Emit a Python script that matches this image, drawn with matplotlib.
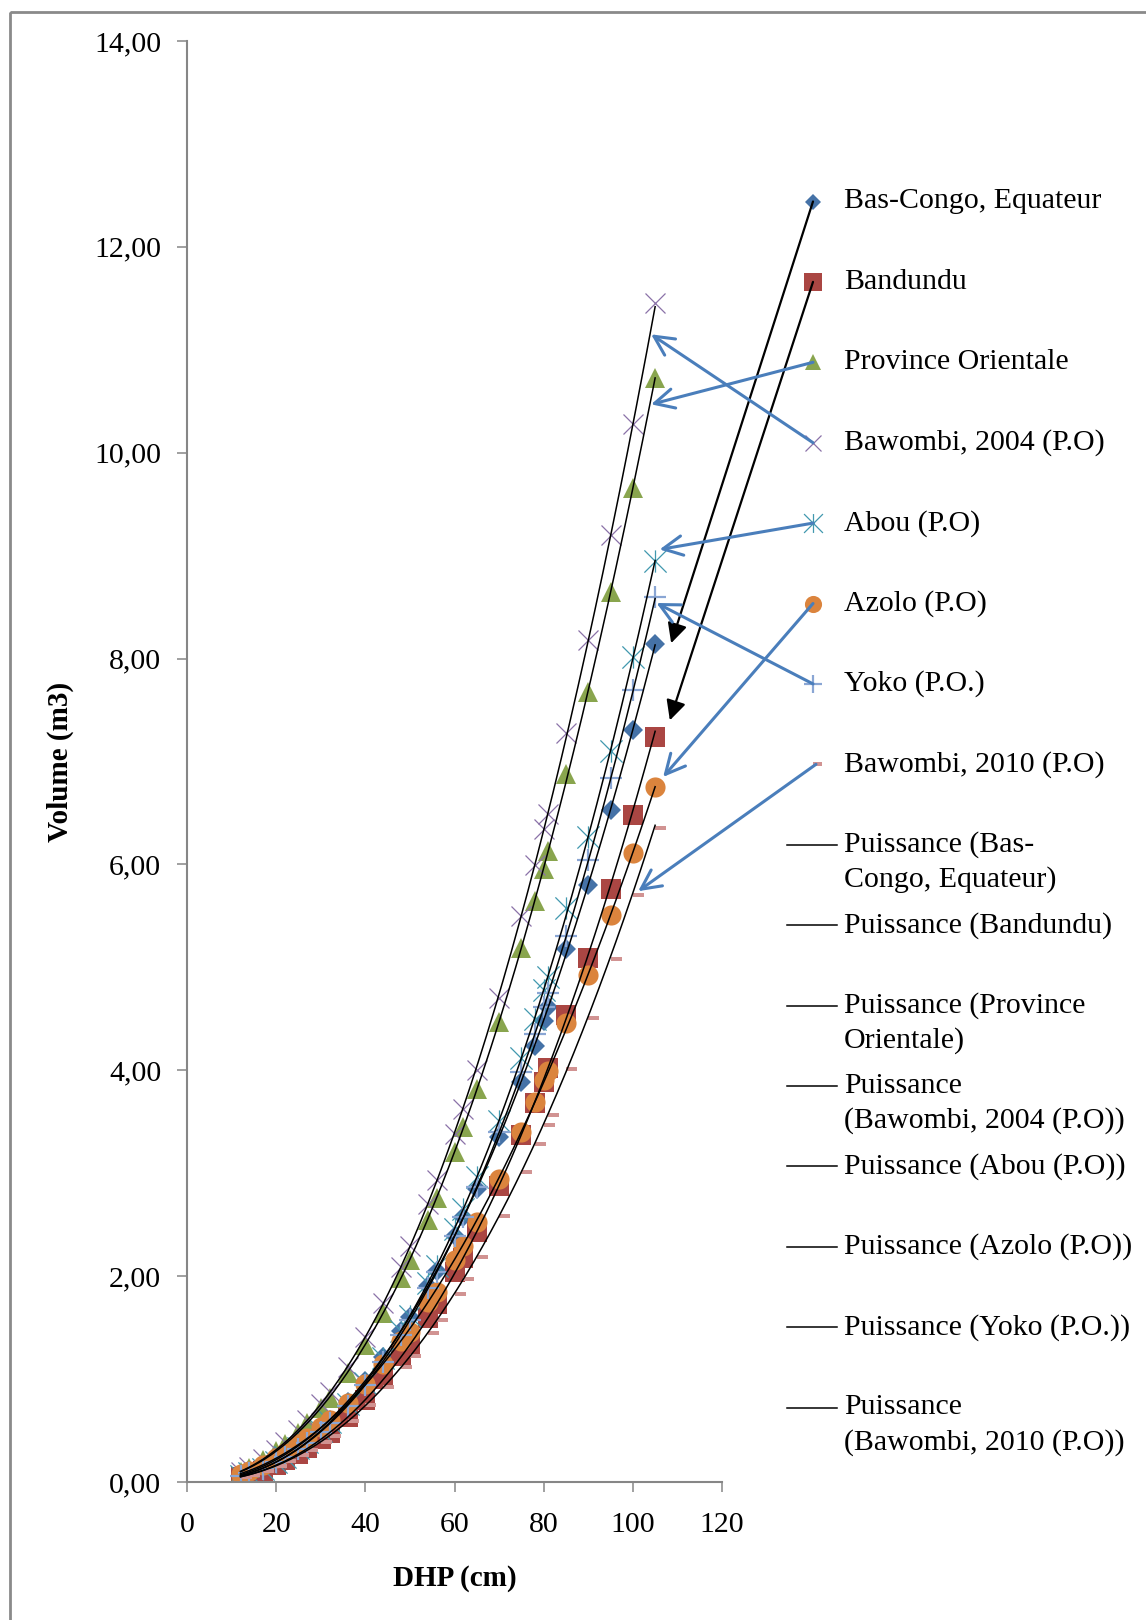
import matplotlib.pyplot as plt
import numpy as np
from matplotlib.patches import Rectangle
from matplotlib.path import Path
from matplotlib.ticker import FuncFormatter

plt.rcParams['font.family'] = ['Liberation Serif', 'DejaVu Serif']

# DHP classes (cm) shared by all tariffs
dhp = [12, 14, 17, 20, 22, 25, 27, 30, 32, 36, 40, 44, 48, 50, 54, 56, 60, 62,
       65, 70, 75, 78, 80, 81, 85, 90, 95, 100, 105]

# stem volume (m3) per tariff
bas_congo = [0.07, 0.10, 0.15, 0.22, 0.27, 0.35, 0.42, 0.52, 0.60, 0.78, 0.98,
             1.21, 1.47, 1.60, 1.90, 2.05, 2.39, 2.57, 2.85, 3.35, 3.89, 4.24,
             4.48, 4.61, 5.18, 5.80, 6.53, 7.31, 8.14]
bandundu = [0.05, 0.07, 0.11, 0.17, 0.21, 0.27, 0.33, 0.42, 0.48, 0.63, 0.80,
            1.00, 1.22, 1.33, 1.59, 1.73, 2.04, 2.18, 2.43, 2.88, 3.37, 3.68,
            3.89, 4.02, 4.54, 5.09, 5.76, 6.48, 7.24]
province_orientale = [0.10, 0.14, 0.21, 0.30, 0.37, 0.48, 0.57, 0.72, 0.82,
                      1.06, 1.33, 1.64, 1.98, 2.16, 2.55, 2.76, 3.21, 3.45,
                      3.82, 4.47, 5.19, 5.64, 5.96, 6.13, 6.88, 7.68, 8.65,
                      9.66, 10.73]
bawombi_2004 = [0.10, 0.15, 0.22, 0.31, 0.39, 0.51, 0.60, 0.76, 0.87, 1.12,
                1.41, 1.74, 2.09, 2.29, 2.70, 2.93, 3.38, 3.62, 4.00, 4.70,
                5.50, 5.99, 6.34, 6.49, 7.28, 8.18, 9.20, 10.28, 11.45]
abou = [0.06, 0.09, 0.13, 0.19, 0.24, 0.33, 0.39, 0.50, 0.58, 0.76, 0.96, 1.20,
        1.47, 1.61, 1.93, 2.10, 2.46, 2.65, 2.96, 3.51, 4.12, 4.50, 4.78, 4.91,
        5.58, 6.27, 7.10, 8.02, 8.95]
azolo = [0.08, 0.11, 0.17, 0.23, 0.28, 0.37, 0.43, 0.53, 0.60, 0.77, 0.95,
         1.15, 1.37, 1.46, 1.75, 1.85, 2.16, 2.29, 2.53, 2.94, 3.40, 3.69, 3.91,
         3.99, 4.46, 4.93, 5.51, 6.11, 6.75]
yoko = [0.06, 0.09, 0.13, 0.19, 0.24, 0.32, 0.38, 0.49, 0.57, 0.74, 0.94, 1.17,
        1.43, 1.57, 1.88, 2.04, 2.39, 2.57, 2.87, 3.40, 3.98, 4.35, 4.61, 4.75,
        5.30, 6.04, 6.84, 7.69, 8.60]
bawombi_2010 = [0.05, 0.07, 0.11, 0.16, 0.20, 0.26, 0.31, 0.39, 0.45, 0.59,
                0.75, 0.92, 1.12, 1.22, 1.45, 1.57, 1.83, 1.97, 2.19, 2.58,
                3.01, 3.28, 3.47, 3.57, 4.01, 4.51, 5.08, 5.70, 6.35]

names = ['Bas-Congo, Equateur', 'Bandundu', 'Province Orientale',
         'Bawombi, 2004 (P.O)', 'Abou (P.O)', 'Azolo (P.O)', 'Yoko (P.O.)',
         'Bawombi, 2010 (P.O)']
trend_names = ['Puissance (Bas-\nCongo, Equateur)', 'Puissance (Bandundu)',
               'Puissance (Province\nOrientale)',
               'Puissance\n(Bawombi, 2004 (P.O))', 'Puissance (Abou (P.O))',
               'Puissance (Azolo (P.O))', 'Puissance (Yoko (P.O.))',
               'Puissance\n(Bawombi, 2010 (P.O))']
volumes = [bas_congo, bandundu, province_orientale, bawombi_2004, abou, azolo,
           yoko, bawombi_2010]

asterisk = Path([(0, -1), (0, 1), (-1, -1), (1, 1), (-1, 1), (1, -1)],
                [Path.MOVETO, Path.LINETO] * 3)
dash = [(0, -0.2), (1, -0.2), (1, 0.2), (0, 0.2), (0, -0.2)]

# marker, size, color, filled, edge width
styles = [
    ('D', 10.0, '#4572A7', True, 0),
    ('s', 14.5, '#AA4643', True, 0),
    ('^', 14.0, '#89A54E', True, 0),
    ('x', 14.0, '#8A72A8', False, 0.9),
    (asterisk, 16.0, '#4198AF', False, 0.9),
    ('o', 14.5, '#DB843D', True, 0),
    ('+', 16.0, '#8AA6D4', False, 1.6),
    (dash, 16.0, '#D19392', True, 0),
]

W, H = 1146, 1620
fig = plt.figure(figsize=(W / 100, H / 100), dpi=100)
ax = fig.add_axes([187 / W, 1 - 1482 / H, 535 / W, 1441 / H])

for vals, (mk, ms, col, filled, mew) in zip(volumes, styles):
    if filled:
        ax.plot(dhp, vals, ls='none', marker=mk, ms=ms, color=col, mew=0)
    else:
        ax.plot(dhp, vals, ls='none', marker=mk, ms=ms, mfc='none',
                mec=col, mew=mew)

# power trendlines, fitted in log-log space
x_fit = np.linspace(min(dhp), max(dhp), 200)
for vals in volumes:
    b, ln_a = np.polyfit(np.log(dhp), np.log(vals), 1)
    ax.plot(x_fit, np.exp(ln_a) * x_fit ** b, color='black', lw=1.1)

ax.set_xlim(0, 120)
ax.set_ylim(0, 14)
ax.set_xticks(range(0, 121, 20))
ax.set_yticks(range(0, 15, 2))
ax.yaxis.set_major_formatter(FuncFormatter(lambda v, _: f'{v:.2f}'.replace('.', ',')))
for side in ['top', 'right']:
    ax.spines[side].set_visible(False)
for side in ['left', 'bottom']:
    ax.spines[side].set_color('#868686')
    ax.spines[side].set_linewidth(1.5)
ax.tick_params(axis='both', direction='out', length=7.5, width=1.1,
               color='#868686', labelsize=21.5)
ax.tick_params(axis='y', pad=11)
ax.tick_params(axis='x', pad=14)

ax.set_xlabel('DHP (cm)', fontsize=21, fontweight='bold')
ax.set_ylabel('Volume (m3)', fontsize=21, fontweight='bold')
ax.xaxis.set_label_coords(0.5, -0.0673)
ax.yaxis.set_label_coords(-0.237, 0.5)
ax.xaxis.label.set_va('center')
ax.yaxis.label.set_va('center')

# overlay in pixel units for the legend, arrows and frame
ov = fig.add_axes([0, 0, 1, 1])
ov.set_xlim(0, W)
ov.set_ylim(H, 0)
ov.axis('off')
ov.patch.set_visible(False)
ov.set_zorder(5)

ov.add_patch(Rectangle((10, 12), 1300, 1800, fill=False, ec='#8a8a8a', lw=2))

slot0, step = 201.5, 80.4
mark_x, text_x = 813, 844
for i, (name, (mk, ms, col, filled, mew)) in enumerate(zip(names, styles)):
    y = slot0 + step * i
    if filled:
        ov.plot(mark_x, y, marker=mk, ms=ms * 0.85, color=col, mew=0)
    else:
        ov.plot(mark_x, y, marker=mk, ms=ms * 0.85, mfc='none', mec=col, mew=mew)
    ov.text(text_x, y, name, fontsize=21.5, va='center', ha='left')

for j, name in enumerate(trend_names):
    y = slot0 + step * (8 + j)
    ov.plot([787, 837], [y, y], color='black', lw=1.1)
    for k, line in enumerate(name.split('\n')):
        ov.text(text_x, y + 35 * k, line, fontsize=21.5, va='center', ha='left')

# pointers from legend symbols to their curves
targets = [(108.6, 8.15), (108.3, 7.40), (104.1, 10.47), (104.1, 11.15),
           (106.0, 9.06), (106.8, 6.85), (105.3, 8.54), (101.2, 5.74)]
for i, tgt in enumerate(targets):
    start = (mark_x + (3 if i == 7 else 0), slot0 + step * i)
    if i < 2:
        props = dict(arrowstyle='-|>,head_length=0.6,head_width=0.3',
                     color='black', lw=1.6, shrinkA=0, shrinkB=0,
                     mutation_scale=20)
    else:
        props = dict(arrowstyle='->,head_length=0.7,head_width=0.35',
                     color='#4A7EBB', lw=2.2, shrinkA=0, shrinkB=0,
                     mutation_scale=20)
    ov.annotate('', xy=tgt, xycoords=ax.transData, xytext=start,
                textcoords='data', arrowprops=props)

fig.savefig('out.png', dpi=100, facecolor='white')
